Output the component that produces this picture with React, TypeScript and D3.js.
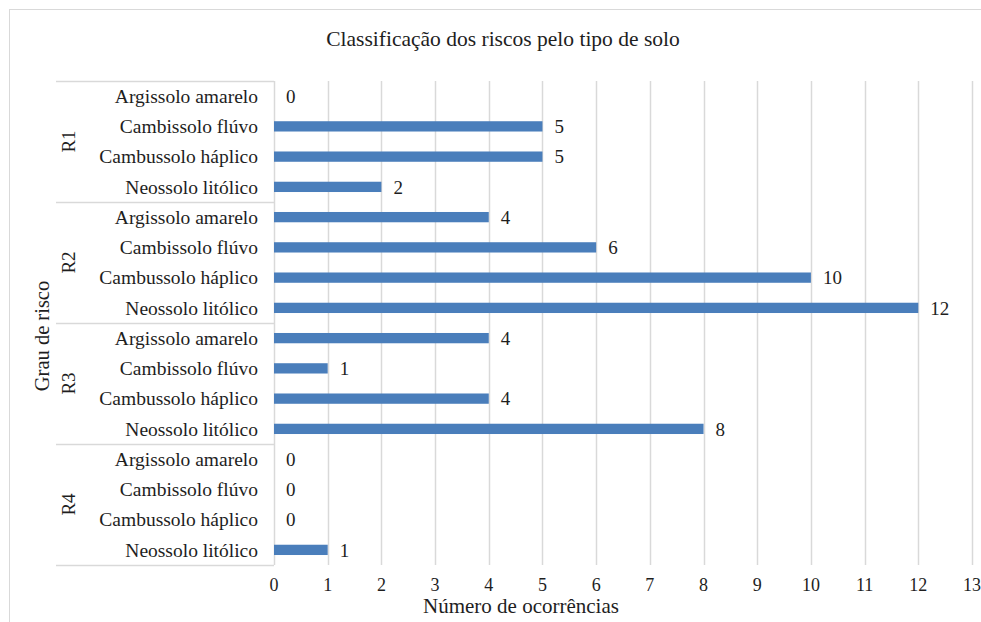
import React, { useRef, useEffect } from "react";
import * as d3 from "d3";

const groups = ["R1", "R2", "R3", "R4"];
const soils = [
  "Argissolo amarelo",
  "Cambissolo flúvo",
  "Cambussolo háplico",
  "Neossolo litólico",
];
const r1 = [0, 5, 5, 2];
const r2 = [4, 6, 10, 12];
const r3 = [4, 1, 4, 8];
const r4 = [0, 0, 0, 1];
const xTicks = d3.range(0, 14);

const title = "Classificação dos riscos pelo tipo de solo";
const xTitle = "Número de ocorrências";
const yTitle = "Grau de risco";

export default function App() {
  const ref = useRef<SVGSVGElement>(null);

  useEffect(() => {
    const W = 981,
      H = 622;
    const margin = { top: 81, right: 9, bottom: 57, left: 274 };
    const font = "'Liberation Serif', 'Times New Roman', serif";
    const ink = "#1e1e1e";
    const rows = [r1, r2, r3, r4].flatMap((vals, gi) =>
      vals.map((v, si) => ({ group: groups[gi], soil: soils[si], key: gi + "-" + si, value: v }))
    );

    const svg = d3.select(ref.current);
    svg.selectAll("*").remove();
    svg.attr("width", W).attr("height", H);

    // chart frame
    svg
      .append("rect")
      .attr("x", 9.5)
      .attr("y", 9.5)
      .attr("width", W + 10)
      .attr("height", H + 10)
      .attr("fill", "white")
      .attr("stroke", "#d9d9d9");

    const x = d3
      .scaleLinear()
      .domain([0, 13])
      .range([margin.left, W - margin.right]);
    const y = d3
      .scaleBand()
      .domain(rows.map((d) => d.key))
      .range([margin.top, H - margin.bottom])
      .paddingInner(0.66)
      .paddingOuter(0.33);

    const yBottom = H - margin.bottom;

    // gridlines
    svg
      .append("g")
      .selectAll("line")
      .data(xTicks)
      .join("line")
      .attr("x1", (d) => Math.round(x(d)) + 0.5)
      .attr("x2", (d) => Math.round(x(d)) + 0.5)
      .attr("y1", margin.top)
      .attr("y2", yBottom)
      .attr("stroke", "#d9d9d9")
      .attr("stroke-width", 1.5);

    // group separators
    const step = y.step();
    const bounds = d3.range(0, groups.length + 1).map((i) => margin.top + i * 4 * step);
    svg
      .append("g")
      .selectAll("line")
      .data(bounds)
      .join("line")
      .attr("x1", 56)
      .attr("x2", margin.left)
      .attr("y1", (d) => Math.round(d) + 0.5)
      .attr("y2", (d) => Math.round(d) + 0.5)
      .attr("stroke", "#d9d9d9")
      .attr("stroke-width", 1.5);

    // bars
    svg
      .append("g")
      .selectAll("rect")
      .data(rows)
      .join("rect")
      .attr("x", x(0))
      .attr("y", (d) => y(d.key)!)
      .attr("width", (d) => x(d.value) - x(0))
      .attr("height", y.bandwidth())
      .attr("fill", "#4a7ebb");

    // value labels
    svg
      .append("g")
      .selectAll("text")
      .data(rows)
      .join("text")
      .attr("x", (d) => x(d.value) + 12)
      .attr("y", (d) => y(d.key)! + y.bandwidth() / 2)
      .attr("dy", "0.35em")
      .attr("font-family", font)
      .attr("font-size", 19)
      .attr("fill", ink)
      .text((d) => d.value);

    // category labels
    svg
      .append("g")
      .selectAll("text")
      .data(rows)
      .join("text")
      .attr("x", 258)
      .attr("y", (d) => y(d.key)! + y.bandwidth() / 2)
      .attr("dy", "0.35em")
      .attr("text-anchor", "end")
      .attr("font-family", font)
      .attr("font-size", 19.5)
      .attr("fill", ink)
      .text((d) => d.soil);

    // group labels
    svg
      .append("g")
      .selectAll("text")
      .data(groups)
      .join("text")
      .attr("transform", (d, i) => `translate(68,${(bounds[i] + bounds[i + 1]) / 2}) rotate(-90)`)
      .attr("text-anchor", "middle")
      .attr("dy", "0.35em")
      .attr("font-family", font)
      .attr("font-size", 19)
      .attr("fill", ink)
      .text((d) => d);

    // x tick labels
    svg
      .append("g")
      .selectAll("text")
      .data(xTicks)
      .join("text")
      .attr("x", (d) => x(d))
      .attr("y", 591)
      .attr("text-anchor", "middle")
      .attr("font-family", font)
      .attr("font-size", 18)
      .attr("fill", ink)
      .text((d) => d);

    svg
      .append("text")
      .attr("x", 521)
      .attr("y", 613)
      .attr("text-anchor", "middle")
      .attr("font-family", font)
      .attr("font-size", 21)
      .attr("fill", ink)
      .text(xTitle);

    svg
      .append("text")
      .attr("transform", `translate(42,336) rotate(-90)`)
      .attr("text-anchor", "middle")
      .attr("dy", "0.35em")
      .attr("font-family", font)
      .attr("font-size", 20.5)
      .attr("fill", ink)
      .text(yTitle);

    svg
      .append("text")
      .attr("x", 503)
      .attr("y", 46)
      .attr("text-anchor", "middle")
      .attr("font-family", font)
      .attr("font-size", 21.5)
      .attr("fill", ink)
      .text(title);
  }, []);

  return (
    <div style={{ position: "absolute", left: 0, top: 0 }}>
      <svg ref={ref}></svg>
    </div>
  );
}
